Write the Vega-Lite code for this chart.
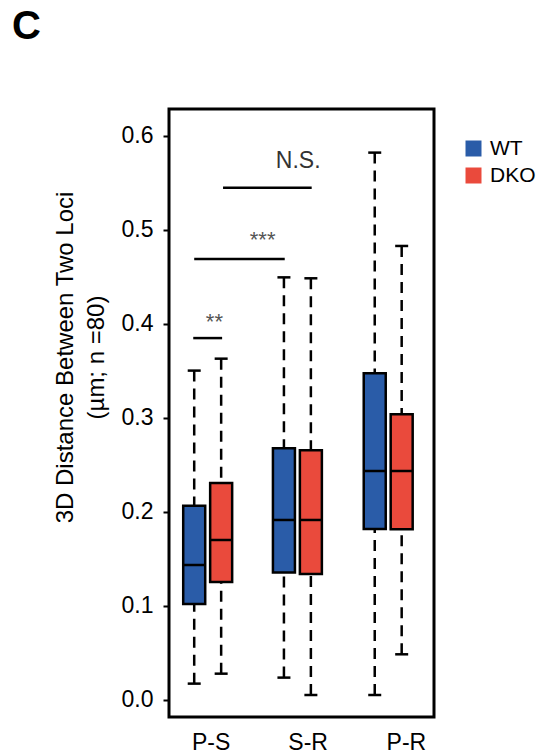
{
  "$schema": "https://vega.github.io/schema/vega-lite/v6.json",
  "width": 265,
  "height": 608,
  "autosize": {"type": "none"},
  "padding": {"left": 169, "top": 109, "right": 118, "bottom": 39},
  "background": "white",
  "config": {
    "view": {"stroke": "black", "strokeWidth": 3},
    "font": "Liberation Sans"
  },
  "title": {
    "text": "C",
    "anchor": "start",
    "frame": "group",
    "orient": "top",
    "offset": 0,
    "dx": -157,
    "dy": -30,
    "baseline": "alphabetic",
    "fontSize": 40,
    "fontWeight": "bold",
    "font": "Liberation Sans",
    "color": "black"
  },
  "datasets": {
    "boxes": [
      {"group": "P-S", "genotype": "WT", "pos": 1, "min": 0.0174, "q1": 0.1021, "median": 0.1436, "q3": 0.2067, "max": 0.3504},
      {"group": "P-S", "genotype": "DKO", "pos": 2, "min": 0.028, "q1": 0.1255, "median": 0.1702, "q3": 0.2309, "max": 0.3631},
      {"group": "S-R", "genotype": "WT", "pos": 4.33, "min": 0.0238, "q1": 0.1355, "median": 0.1915, "q3": 0.2677, "max": 0.4496},
      {"group": "S-R", "genotype": "DKO", "pos": 5.33, "min": 0.0053, "q1": 0.134, "median": 0.1915, "q3": 0.2656, "max": 0.4486},
      {"group": "P-R", "genotype": "WT", "pos": 7.7, "min": 0.0053, "q1": 0.1819, "median": 0.2436, "q3": 0.3475, "max": 0.5823},
      {"group": "P-R", "genotype": "DKO", "pos": 8.7, "min": 0.0486, "q1": 0.1816, "median": 0.2436, "q3": 0.3039, "max": 0.483}
    ],
    "brackets": [
      {"x1": 0.964, "x2": 2.036, "y": 0.385},
      {"x1": 1.0, "x2": 4.36, "y": 0.469},
      {"x1": 2.07, "x2": 5.36, "y": 0.545}
    ],
    "stars": [
      {"x": 1.75, "y": 0.395, "label": "**"},
      {"x": 3.54, "y": 0.482, "label": "***"}
    ],
    "ns": [
      {"x": 4.86, "y": 0.566, "label": "N.S."}
    ]
  },
  "encoding": {
    "x": {
      "field": "pos",
      "type": "quantitative",
      "scale": {"domain": [0.25, 9.714], "nice": false, "zero": false},
      "axis": {
        "values": [1.607, 5.21, 8.857],
        "labelExpr": "datum.value < 3 ? 'P-S' : (datum.value < 7 ? 'S-R' : 'P-R')",
        "title": null,
        "ticks": false,
        "tickSize": 0,
        "domain": false,
        "grid": false,
        "labelFontSize": 23,
        "labelColor": "black",
        "labelPadding": 14,
        "labelFont": "Liberation Sans"
      }
    },
    "y": {
      "type": "quantitative",
      "scale": {"domain": [-0.0181, 0.6287], "nice": false, "zero": false},
      "axis": {
        "values": [0, 0.1, 0.2, 0.3, 0.4, 0.5, 0.6],
        "format": ".1f",
        "title": ["3D Distance Between Two Loci", "(µm; n =80)"],
        "titleFontSize": 24,
        "titleFontWeight": "normal",
        "titleColor": "black",
        "titleFont": "Liberation Sans",
        "titleLineHeight": 31,
        "titleX": -97,
        "titleY": 248,
        "titleAlign": "center",
        "titleBaseline": "alphabetic",
        "titleAngle": -90,
        "grid": false,
        "domain": false,
        "tickColor": "black",
        "tickWidth": 2,
        "tickSize": 6,
        "labelFontSize": 23,
        "labelColor": "black",
        "labelPadding": 10,
        "labelFont": "Liberation Sans"
      }
    }
  },
  "layer": [
    {
      "data": {"name": "boxes"},
      "mark": {"type": "rule", "color": "black", "strokeWidth": 2.5, "strokeDash": [11, 7]},
      "encoding": {"y": {"field": "min", "type": "quantitative"}, "y2": {"field": "q1"}}
    },
    {
      "data": {"name": "boxes"},
      "mark": {"type": "rule", "color": "black", "strokeWidth": 2.5, "strokeDash": [11, 7]},
      "encoding": {"y": {"field": "max", "type": "quantitative"}, "y2": {"field": "q3"}}
    },
    {
      "data": {"name": "boxes"},
      "mark": {"type": "tick", "orient": "horizontal", "color": "black", "size": 13, "thickness": 2.5, "opacity": 1},
      "encoding": {"y": {"field": "min", "type": "quantitative"}}
    },
    {
      "data": {"name": "boxes"},
      "mark": {"type": "tick", "orient": "horizontal", "color": "black", "size": 13, "thickness": 2.5, "opacity": 1},
      "encoding": {"y": {"field": "max", "type": "quantitative"}}
    },
    {
      "data": {"name": "boxes"},
      "mark": {"type": "bar", "orient": "vertical", "size": 22, "stroke": "black", "strokeWidth": 2.5, "fillOpacity": 1},
      "encoding": {
        "y": {"field": "q1", "type": "quantitative"},
        "y2": {"field": "q3"},
        "color": {
          "field": "genotype",
          "type": "nominal",
          "scale": {"domain": ["WT", "DKO"], "range": ["#2A5CA8", "#EA4A3C"]},
          "legend": {
            "orient": "none",
            "legendX": 294,
            "legendY": 29,
            "title": null,
            "symbolType": "square",
            "symbolSize": 256,
            "symbolStrokeWidth": 0,
            "symbolStrokeColor": "transparent",
            "symbolOpacity": 1,
            "labelFontSize": 21,
            "labelFont": "Liberation Sans",
            "labelColor": "black",
            "labelOffset": 6,
            "rowPadding": 5,
            "padding": 0
          }
        }
      }
    },
    {
      "data": {"name": "boxes"},
      "mark": {"type": "tick", "orient": "horizontal", "color": "black", "size": 22, "thickness": 2.5, "opacity": 1},
      "encoding": {"y": {"field": "median", "type": "quantitative"}}
    },
    {
      "data": {"name": "brackets"},
      "mark": {"type": "rule", "color": "black", "strokeWidth": 2.5},
      "encoding": {
        "x": {"field": "x1", "type": "quantitative"},
        "x2": {"field": "x2"},
        "y": {"field": "y", "type": "quantitative"}
      }
    },
    {
      "data": {"name": "stars"},
      "mark": {"type": "text", "fontSize": 22, "color": "#555555", "align": "center", "baseline": "alphabetic", "font": "Liberation Sans"},
      "encoding": {
        "x": {"field": "x", "type": "quantitative"},
        "y": {"field": "y", "type": "quantitative"},
        "text": {"field": "label"}
      }
    },
    {
      "data": {"name": "ns"},
      "mark": {"type": "text", "fontSize": 23, "color": "#333333", "align": "center", "baseline": "alphabetic", "font": "Liberation Sans"},
      "encoding": {
        "x": {"field": "x", "type": "quantitative"},
        "y": {"field": "y", "type": "quantitative"},
        "text": {"field": "label"}
      }
    }
  ]
}
